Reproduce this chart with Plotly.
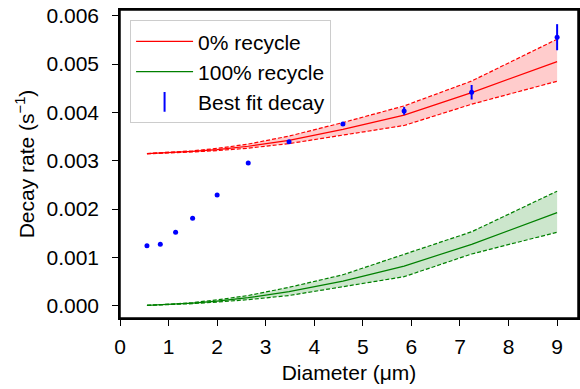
import plotly.graph_objects as go

# ---- data ----
diameter = [0.555, 0.83, 1.145, 1.495, 2.0, 2.64, 3.48, 4.59, 5.85, 7.24, 9.0]

decay_fit = [0.001242, 0.001271, 0.00152, 0.00181, 0.00229, 0.002954, 0.003395,
             0.003762, 0.004031, 0.004418, 0.005557]
decay_err = [0.00001, 0.00001, 0.00001, 0.00001, 0.00001, 0.00001, 0.00001,
             0.00003, 0.00008, 0.00015, 0.00027]

red_mid = [0.003147, 0.003157, 0.003171, 0.003193, 0.003232, 0.003300, 0.003420,
           0.003650, 0.003945, 0.004410, 0.005052]
red_hi = [0.003150, 0.003162, 0.003178, 0.003205, 0.003255, 0.003345, 0.003510,
          0.003790, 0.004135, 0.004650, 0.005516]
red_lo = [0.003144, 0.003152, 0.003164, 0.003181, 0.003210, 0.003260, 0.003355,
          0.003530, 0.003730, 0.004170, 0.004645]

green_mid = [0.000007, 0.000017, 0.000031, 0.000053, 0.000095, 0.000165, 0.00029,
             0.00051, 0.00082, 0.00127, 0.001925]
green_hi = [0.000008, 0.000020, 0.000038, 0.000065, 0.000120, 0.000210, 0.00038,
            0.00064, 0.00107, 0.00153, 0.00237]
green_lo = [0.000006, 0.000014, 0.000025, 0.000042, 0.000075, 0.000125, 0.00021,
            0.00039, 0.00060, 0.00107, 0.00152]

x_ticks = [0, 1, 2, 3, 4, 5, 6, 7, 8, 9]
y_ticks = [0.000, 0.001, 0.002, 0.003, 0.004, 0.005, 0.006]

FONT = "Liberation Sans, Arial, sans-serif"
FS = 21
DASH = "4px,2px"

fig = go.Figure()

def band(lo, hi, mid, color, fill, name):
    fig.add_trace(go.Scatter(x=diameter, y=lo, mode="lines",
                             line=dict(color=color, width=1.2, dash=DASH),
                             showlegend=False, hoverinfo="skip"))
    fig.add_trace(go.Scatter(x=diameter, y=hi, mode="lines", fill="tonexty",
                             fillcolor=fill,
                             line=dict(color=color, width=1.2, dash=DASH),
                             showlegend=False, hoverinfo="skip"))
    fig.add_trace(go.Scatter(x=diameter, y=mid, mode="lines", name=name,
                             line=dict(color=color, width=1.2)))

band(red_lo, red_hi, red_mid, "#ff0000", "rgba(255,0,0,0.2)", "0% recycle")
band(green_lo, green_hi, green_mid, "#008000", "rgba(0,128,0,0.2)", "100% recycle")

fig.add_trace(go.Scatter(
    x=diameter, y=decay_fit, mode="markers", name="Best fit decay",
    marker=dict(color="#0000ff", size=5), showlegend=False,
    error_y=dict(type="data", array=decay_err, color="#0000ff", thickness=2, width=0),
))
# legend glyph: vertical error bar
fig.add_trace(go.Scatter(
    x=[None], y=[None], mode="markers", name="Best fit decay",
    marker=dict(color="#0000ff", size=14, symbol="line-ns",
                line=dict(color="#0000ff", width=2)),
))

axis_common = dict(
    showline=True, linecolor="black", linewidth=1.5, mirror=True,
    ticks="outside", ticklen=6, tickwidth=1.3, tickcolor="black",
    showgrid=False, zeroline=False, automargin=False,
    ticklabeloverflow="allow",
    tickfont=dict(family=FONT, size=FS, color="black"),
)

fig.update_xaxes(range=[0, 9.43], tickvals=x_ticks, ticklabelstandoff=3,
                 title=dict(text="Diameter (μm)", font=dict(family=FONT, size=FS, color="black"),
                            standoff=8),
                 **axis_common)
fig.update_yaxes(range=[-0.000255, 0.00612], tickvals=y_ticks, ticklabelstandoff=9,
                 ticktext=[f"{v:.3f}" for v in y_ticks],
                 title=dict(text="Decay rate (s<sup>−1</sup>)",
                            font=dict(family=FONT, size=FS, color="black"), standoff=6),
                 **axis_common)

# full axes frame (matplotlib-style box)
fig.add_shape(type="rect", xref="paper", yref="paper", x0=0, x1=1, y0=0, y1=1,
              line=dict(color="black", width=1.5), fillcolor="rgba(0,0,0,0)",
              layer="above")

fig.update_layout(
    width=580, height=389,
    margin=dict(l=120, r=2, t=10, b=71),
    paper_bgcolor="white", plot_bgcolor="white",
    font=dict(family=FONT, size=FS, color="black"),
    legend=dict(x=0.022, y=0.967, xanchor="left", yanchor="top",
                traceorder="normal",
                bgcolor="rgba(255,255,255,0.8)", bordercolor="#cccccc", borderwidth=1,
                font=dict(family=FONT, size=FS, color="black"),
                tracegroupgap=0, itemwidth=57),
    showlegend=True,
)

# remove the browser's default 8px body margin so the figure fills the window
fig.write_html("out.html", config={"displayModeBar": False},
               post_script="document.body.style.margin='0px';")
